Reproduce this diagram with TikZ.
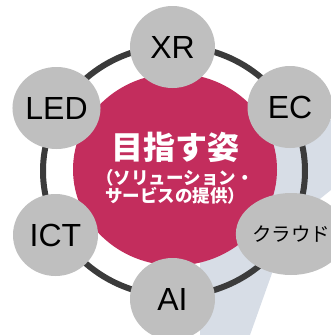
\documentclass[tikz,border=0pt]{standalone}
\usepackage{fontspec}
\setmainfont{Liberation Sans}
\newfontfamily\cjk{Noto Sans CJK JP}
\usetikzlibrary{shapes.geometric}
\definecolor{ringc}{HTML}{3B3B3B}
\definecolor{satc}{HTML}{BFBFBF}
\definecolor{hubc}{HTML}{C32D5D}
\definecolor{wedgec}{HTML}{D7DDE6}
\tikzset{
  sat/.style={ellipse, fill=satc, minimum width=85pt, minimum height=82pt, inner sep=0pt, font=\fontsize{32}{32}\selectfont, text=black},
  hub/.style={ellipse, fill=hubc, minimum width=204pt, minimum height=192pt, inner sep=0pt},
  ringline/.style={draw=ringc, line width=6pt},
}
\begin{document}
\begin{tikzpicture}[x=1pt,y=-1pt]
\useasboundingbox (0,0) rectangle (331,335);
% faint background wedge
\fill[wedgec] (200,335) -- (250,335) -- (276,262) -- (300,215) -- (331,190) -- (331,120) -- (300,128) -- (268,140) -- (200,250) -- cycle;
% ring
\draw[ringline] (174,171) ellipse [x radius=131, y radius=125];
% hub
\node[hub] (hub) at (175,169.5) {};
\node[text=white, font=\cjk\bfseries\fontsize{32}{32}\selectfont] (title) at (175,147) {目指す姿};
\node[text=white, font=\cjk\bfseries\fontsize{17.5}{18.5}\selectfont, align=center] (sub) at (175,187) {（ソリューション・\\サービスの提供）};
% satellites
\node[sat] (xr) at (172.5,47) {XR};
\node[sat] (ec) at (290,107) {EC};
\node[sat, font=\cjk\fontsize{19.5}{19.5}\selectfont] (cloud) at (291,234) {クラウド};
\node[sat] (ai) at (172.5,299) {AI};
\node[sat] (ict) at (55.5,235) {ICT};
\node[sat] (led) at (56.5,108) {LED};
\end{tikzpicture}
\end{document}
